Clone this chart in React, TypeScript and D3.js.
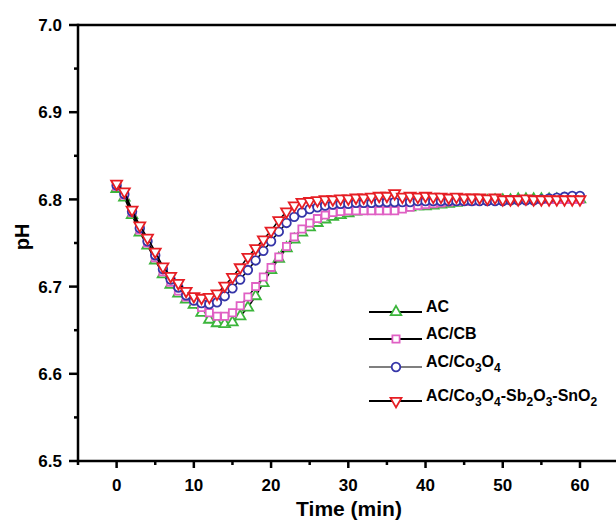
import * as d3 from 'd3';

// time in minutes, one reading per minute
const times = d3.range(0, 61);

const acValues = [
  6.812, 6.802, 6.782, 6.762, 6.747, 6.730, 6.714, 6.702, 6.692, 6.685,
  6.679, 6.670, 6.662, 6.658, 6.657, 6.659, 6.666, 6.676, 6.689, 6.704,
  6.719, 6.732, 6.744, 6.754, 6.762, 6.768, 6.773, 6.777, 6.780, 6.782,
  6.784, 6.786, 6.787, 6.788, 6.789, 6.790, 6.790, 6.791, 6.791, 6.792,
  6.792, 6.793, 6.794, 6.795, 6.796, 6.797, 6.798, 6.798, 6.798, 6.799,
  6.799, 6.799, 6.800, 6.800, 6.800, 6.800, 6.800, 6.800, 6.800, 6.800,
  6.800,
];

const acCbValues = [
  6.815, 6.805, 6.785, 6.765, 6.750, 6.733, 6.717, 6.705, 6.695, 6.688,
  6.684, 6.676, 6.670, 6.666, 6.666, 6.670, 6.678, 6.688, 6.700, 6.711,
  6.722, 6.734, 6.746, 6.757, 6.766, 6.773, 6.778, 6.782, 6.785, 6.786,
  6.787, 6.787, 6.787, 6.787, 6.787, 6.787, 6.787, 6.789, 6.791, 6.793,
  6.794, 6.795, 6.796, 6.797, 6.798, 6.798, 6.798, 6.799, 6.799, 6.799,
  6.799, 6.800, 6.800, 6.800, 6.800, 6.800, 6.800, 6.800, 6.800, 6.800,
  6.800,
];

const acCoValues = [
  6.816, 6.806, 6.786, 6.767, 6.752, 6.736, 6.720, 6.708, 6.699, 6.690,
  6.684, 6.681, 6.680, 6.682, 6.689, 6.698, 6.708, 6.719, 6.730, 6.741,
  6.752, 6.763, 6.773, 6.780, 6.785, 6.789, 6.791, 6.793, 6.794, 6.795,
  6.795, 6.796, 6.796, 6.796, 6.797, 6.797, 6.797, 6.797, 6.797, 6.798,
  6.798, 6.798, 6.798, 6.798, 6.798, 6.798, 6.798, 6.798, 6.798, 6.798,
  6.798, 6.799, 6.799, 6.799, 6.799, 6.800, 6.801, 6.802, 6.803, 6.804,
  6.804,
];

const acCoSbSnValues = [
  6.818, 6.809, 6.788, 6.770, 6.756, 6.740, 6.723, 6.712, 6.704, 6.695,
  6.689, 6.687, 6.688, 6.692, 6.701, 6.711, 6.722, 6.734, 6.744, 6.754,
  6.764, 6.776, 6.786, 6.793, 6.797, 6.798, 6.799, 6.800, 6.800, 6.801,
  6.801, 6.802, 6.802, 6.803, 6.804, 6.804, 6.807, 6.803, 6.804, 6.803,
  6.804, 6.803, 6.803, 6.802, 6.803, 6.802, 6.802, 6.802, 6.801, 6.802,
  6.800, 6.800, 6.800, 6.801, 6.800, 6.800, 6.800, 6.800, 6.800, 6.800,
  6.800,
];

const xTicks = [0, 10, 20, 30, 40, 50, 60];
const yTicks = [6.5, 6.6, 6.7, 6.8, 6.9, 7.0];

const series = [
  { key: 'ac', values: acValues, color: '#3bb53b', symbol: d3.symbolTriangle, size: 48, rotate: 0, lineW: 2,
    label: [{ t: 'AC' }] },
  { key: 'accb', values: acCbValues, color: '#e060c4', symbol: d3.symbolSquare, size: 52, rotate: 0, lineW: 2,
    label: [{ t: 'AC/CB' }] },
  { key: 'acco', values: acCoValues, color: '#3535a8', symbol: d3.symbolCircle, size: 58, rotate: 0, lineW: 1.2,
    label: [{ t: 'AC/Co' }, { t: '3', sub: true }, { t: 'O' }, { t: '4', sub: true }] },
  { key: 'acsn', values: acCoSbSnValues, color: '#e61e24', symbol: d3.symbolTriangle, size: 52, rotate: 180, lineW: 2,
    label: [{ t: 'AC/Co' }, { t: '3', sub: true }, { t: 'O' }, { t: '4', sub: true }, { t: '-Sb' },
      { t: '2', sub: true }, { t: 'O' }, { t: '3', sub: true }, { t: '-SnO' }, { t: '2', sub: true }] },
];

const legendRows = [312, 339, 367, 401];

const font = '"Liberation Sans", Arial, sans-serif';

export default function App() {
  const width = 616;
  const height = 521;

  const x = d3.scaleLinear().domain([-5, 65]).range([78, 618.6]);
  const y = d3.scaleLinear().domain([6.5, 7.0]).range([461, 25]);

  const line = d3.line<number>()
    .x((_, i) => x(times[i]))
    .y(d => y(d));

  const minorX = d3.range(-5, 66, 10);
  const minorY = [6.55, 6.65, 6.75, 6.85, 6.95];

  return (
    <svg width={width} height={height} style={{ position: 'absolute', left: 0, top: 0, background: '#fff' }}
      fontFamily={font}>
      {/* data lines and markers */}
      {series.map(s => (
        <g key={s.key}>
          <path d={line(s.values) || ''} fill="none" stroke="#000" strokeWidth={1.5} />
          {s.values.map((v, i) => (
            <path key={i} d={d3.symbol(s.symbol, s.size)() || ''}
              transform={`translate(${x(times[i])},${y(v)}) rotate(${s.rotate})`}
              fill="#fff" stroke={s.color} strokeWidth={1.8} />
          ))}
        </g>
      ))}

      {/* frame */}
      <line x1={78} x2={616} y1={y(7.0)} y2={y(7.0)} stroke="#000" strokeWidth={2.5} />
      <line x1={78} x2={616} y1={y(6.5)} y2={y(6.5)} stroke="#000" strokeWidth={2.5} />
      <line x1={78} x2={78} y1={y(7.0) - 1.25} y2={y(6.5) + 1.25} stroke="#000" strokeWidth={2.5} />

      {/* x ticks */}
      {xTicks.map(t => (
        <g key={t}>
          <line x1={x(t)} x2={x(t)} y1={461} y2={468} stroke="#000" strokeWidth={2.5} />
          <text x={x(t)} y={491} textAnchor="middle" fontSize={17} fontWeight="bold">{t}</text>
        </g>
      ))}
      {minorX.map(t => (
        <line key={t} x1={x(t)} x2={x(t)} y1={461} y2={465} stroke="#000" strokeWidth={2.5} />
      ))}

      {/* y ticks */}
      {yTicks.map(t => (
        <g key={t}>
          <line x1={69} x2={78} y1={y(t)} y2={y(t)} stroke="#000" strokeWidth={2.5} />
          <text x={62} y={y(t)} dy="0.36em" textAnchor="end" fontSize={17} fontWeight="bold">{t.toFixed(1)}</text>
        </g>
      ))}
      {minorY.map(t => (
        <line key={t} x1={74} x2={78} y1={y(t)} y2={y(t)} stroke="#000" strokeWidth={2.5} />
      ))}

      {/* axis titles */}
      <text x={349} y={516} textAnchor="middle" fontSize={21} fontWeight="bold">Time (min)</text>
      <text transform="translate(29,237) rotate(-90)" textAnchor="middle" fontSize={20} fontWeight="bold">pH</text>

      {/* legend */}
      {series.map((s, i) => (
        <g key={s.key} transform={`translate(0,${legendRows[i]})`}>
          <line x1={369} x2={422} y1={0} y2={0} stroke="#000" strokeWidth={s.lineW} />
          <path d={d3.symbol(s.symbol, s.size)() || ''} transform={`translate(396,0) rotate(${s.rotate})`}
            fill="#fff" stroke={s.color} strokeWidth={1.8} />
          <text x={426} y={0} dy="0.36em" fontSize={16} fontWeight="bold">
            {s.label.map((p, j) => (
              <tspan key={j} fontSize={p.sub ? 12 : 16} dy={p.sub ? 5 : (j > 0 && s.label[j - 1].sub ? -5 : 0)}>{p.t}</tspan>
            ))}
          </text>
        </g>
      ))}
    </svg>
  );
}
